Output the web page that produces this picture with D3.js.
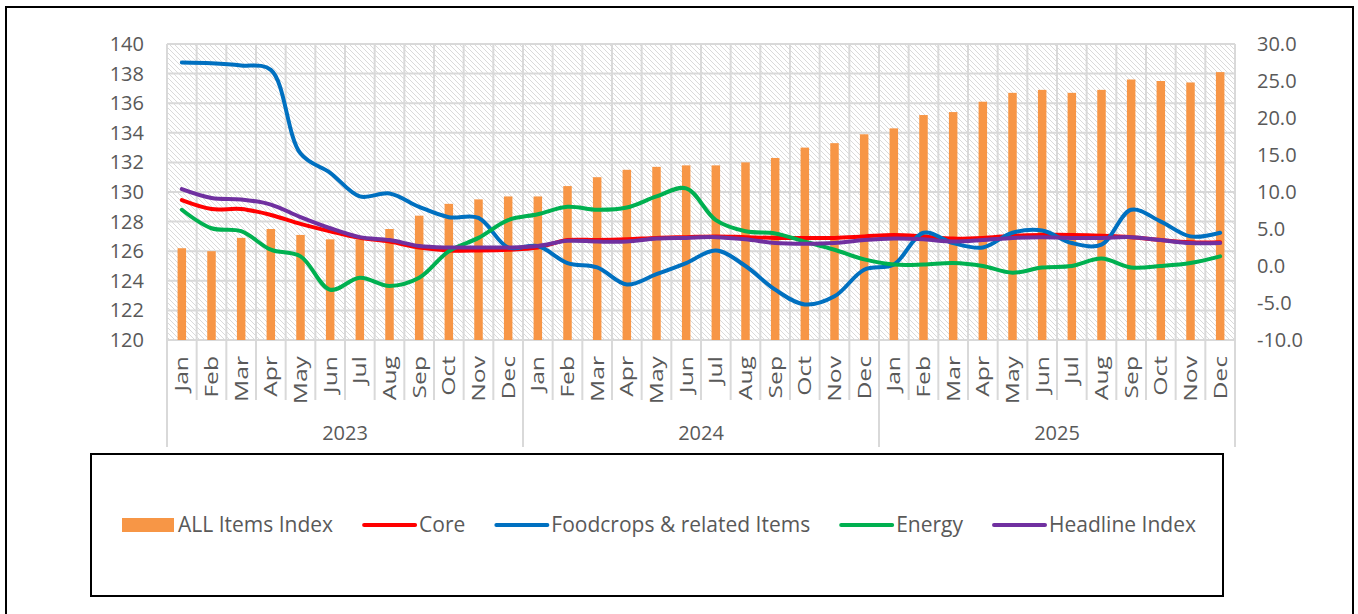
<!DOCTYPE html>
<html>
<head>
<meta charset="utf-8">
<script src="https://cdn.jsdelivr.net/npm/d3@7"></script>
<style>
  body { margin: 0; background: #fff; }
  text { font-family: "Open Sans", "Noto Sans", sans-serif; fill: #595959; }
</style>
</head>
<body>
<script>
var months = ["Jan","Feb","Mar","Apr","May","Jun","Jul","Aug","Sep","Oct","Nov","Dec"];
var years = ["2023","2024","2025"];
var leftTicks = [120,122,124,126,128,130,132,134,136,138,140];
var rightTicks = [-10,-5,0,5,10,15,20,25,30];

// index level (left axis)
var allItems = [126.2,126.0,126.9,127.5,127.1,126.8,126.8,127.5,128.4,129.2,129.5,129.7,
                129.7,130.4,131.0,131.5,131.7,131.8,131.8,132.0,132.3,133.0,133.3,133.9,
                134.3,135.2,135.4,136.1,136.7,136.9,136.7,136.9,137.6,137.5,137.4,138.1];
// annual % change (right axis)
var core = [8.9,7.7,7.7,6.9,5.7,4.7,3.8,3.3,2.5,2.1,2.1,2.2,
            2.5,3.5,3.5,3.6,3.8,3.9,4.0,3.9,3.8,3.8,3.8,4.0,
            4.2,4.0,3.7,3.8,4.1,4.2,4.2,4.1,3.9,3.5,3.2,3.2];
var foodcrops = [27.5,27.4,27.1,26.5,15.2,12.6,9.4,9.8,8.0,6.6,6.5,2.5,
                 2.7,0.4,-0.2,-2.5,-1.1,0.4,2.1,0.0,-3.2,-5.2,-4.1,-0.5,
                 0.2,4.5,3.1,2.5,4.5,4.8,3.1,2.9,7.6,6.0,4.0,4.5];
var energy = [7.6,5.1,4.7,2.2,1.3,-3.2,-1.6,-2.7,-1.6,2.0,3.8,6.2,
              7.0,8.0,7.6,7.9,9.4,10.5,6.2,4.7,4.4,3.3,2.2,0.9,
              0.2,0.2,0.4,0.0,-0.9,-0.2,0.0,1.0,-0.2,0.0,0.4,1.3];
var headline = [10.4,9.2,9.0,8.3,6.6,5.1,3.9,3.5,2.7,2.5,2.5,2.5,
                2.7,3.4,3.3,3.3,3.7,3.8,3.9,3.6,3.1,3.0,3.1,3.5,
                3.7,3.6,3.3,3.5,3.8,3.9,3.8,3.8,3.9,3.5,3.1,3.1];

var lineSeries = [
  {name: "Core", values: core, colour: "#ff0000"},
  {name: "Foodcrops & related Items", values: foodcrops, colour: "#0070c0"},
  {name: "Energy", values: energy, colour: "#00b050"},
  {name: "Headline Index", values: headline, colour: "#7030a0"}
];

var W = 1358, H = 614;
var plot = {left: 167, right: 1235, top: 44, bottom: 340};

// one key per month, e.g. "2023-Jan"
var keys = [];
years.forEach(function(y) { months.forEach(function(m) { keys.push(y + "-" + m); }); });

var svg = d3.select("body").append("svg")
  .attr("width", W)
  .attr("height", H);

svg.append("rect").attr("width", W).attr("height", H).attr("fill", "#fff");

// hatch fill of the plot area
var defs = svg.append("defs");
defs.append("pattern")
    .attr("id", "hatch")
    .attr("patternUnits", "userSpaceOnUse")
    .attr("width", 5).attr("height", 5)
  .append("path")
    .attr("d", "M-1,-1 L6,6 M-1,4 L1,6 M4,-1 L6,1")
    .attr("stroke", "#d6d6d6")
    .attr("stroke-width", 0.9);

// outer chart frame
svg.append("rect")
  .attr("x", 6).attr("y", 7)
  .attr("width", 1347).attr("height", 700)
  .attr("fill", "none")
  .attr("stroke", "#000")
  .attr("stroke-width", 2);

var x = d3.scaleBand().domain(keys).range([plot.left, plot.right]);
var yLeft = d3.scaleLinear().domain([120, 140]).range([plot.bottom, plot.top]);
var yRight = d3.scaleLinear().domain([-10, 30]).range([plot.bottom, plot.top]);

svg.append("rect")
  .attr("x", plot.left).attr("y", plot.top)
  .attr("width", plot.right - plot.left).attr("height", plot.bottom - plot.top)
  .attr("fill", "url(#hatch)");

// gridlines
var grid = svg.append("g").attr("stroke", "#d9d9d9").attr("stroke-width", 2);
grid.selectAll("line.h")
  .data(leftTicks)
  .enter().append("line")
    .attr("class", "h")
    .attr("x1", plot.left).attr("x2", plot.right)
    .attr("y1", function(d) { return yLeft(d); })
    .attr("y2", function(d) { return yLeft(d); });

grid.selectAll("line.v")
  .data(keys.concat(["end"]))
  .enter().append("line")
    .attr("class", "v")
    .attr("x1", function(d, i) { return plot.left + i * x.step(); })
    .attr("x2", function(d, i) { return plot.left + i * x.step(); })
    .attr("y1", plot.top)
    .attr("y2", function(d, i) { return i % 12 == 0 ? 447 : 400; });

// bars
var barW = 8.5;
svg.append("g").selectAll("rect")
  .data(allItems)
  .enter().append("rect")
    .attr("x", function(d, i) { return x(keys[i]) + x.bandwidth() / 2 - barW / 2; })
    .attr("y", function(d) { return yLeft(d); })
    .attr("width", barW)
    .attr("height", function(d) { return yLeft(120) - yLeft(d); })
    .attr("fill", "#f79646");

// smoothed lines
var line = d3.line()
  .x(function(d, i) { return x(keys[i]) + x.bandwidth() / 2; })
  .y(function(d) { return yRight(d); })
  .curve(d3.curveCatmullRom.alpha(0.5));

svg.append("g").selectAll("path")
  .data(lineSeries)
  .enter().append("path")
    .attr("d", function(d) { return line(d.values); })
    .attr("fill", "none")
    .attr("stroke", function(d) { return d.colour; })
    .attr("stroke-width", 4)
    .attr("stroke-linecap", "round")
    .attr("stroke-linejoin", "round");

// axis labels
svg.append("g").selectAll("text")
  .data(leftTicks)
  .enter().append("text")
    .attr("x", 144)
    .attr("y", function(d) { return yLeft(d); })
    .attr("dy", "0.35em")
    .attr("text-anchor", "end")
    .style("font-size", "20px")
    .text(function(d) { return d; });

svg.append("g").selectAll("text")
  .data(rightTicks)
  .enter().append("text")
    .attr("x", 1257)
    .attr("y", function(d) { return yRight(d); })
    .attr("dy", "0.35em")
    .style("font-size", "20px")
    .text(function(d) { return d.toFixed(1); });

// month labels are stretched along their length, as in the source
svg.append("g").selectAll("text")
  .data(keys)
  .enter().append("text")
    .attr("transform", function(d) {
      return "translate(" + (x(d) + x.bandwidth() / 2) + ",356) rotate(-90) scale(1.3,1)";
    })
    .attr("dy", "0.35em")
    .attr("text-anchor", "end")
    .style("font-size", "19px")
    .text(function(d) { return d.split("-")[1]; });

svg.append("g").selectAll("text")
  .data(years)
  .enter().append("text")
    .attr("x", function(d, i) { return plot.left + (i * 12 + 6) * x.step(); })
    .attr("y", 440)
    .attr("text-anchor", "middle")
    .style("font-size", "20px")
    .text(function(d) { return d; });

// legend
svg.append("rect")
  .attr("x", 91).attr("y", 454)
  .attr("width", 1132).attr("height", 142)
  .attr("fill", "#fff")
  .attr("stroke", "#000")
  .attr("stroke-width", 2);

var legendItems = [{name: "ALL Items Index", colour: "#f79646", bar: true}].concat(lineSeries);
var lx = 122, ly = 525;
legendItems.forEach(function(d) {
  var g = svg.append("g");
  if (d.bar) {
    g.append("rect")
      .attr("x", lx).attr("y", ly - 7)
      .attr("width", 52).attr("height", 14)
      .attr("fill", d.colour);
  } else {
    g.append("line")
      .attr("x1", lx + 1).attr("x2", lx + 52)
      .attr("y1", ly).attr("y2", ly)
      .attr("stroke", d.colour)
      .attr("stroke-width", 4)
      .attr("stroke-linecap", "round");
  }
  var t = g.append("text")
    .attr("x", lx + 56)
    .attr("y", ly)
    .attr("dy", "0.35em")
    .style("font-size", "21px")
    .text(d.name);
  lx = lx + 56 + t.node().getComputedTextLength() + 30;
});
</script>
</body>
</html>
